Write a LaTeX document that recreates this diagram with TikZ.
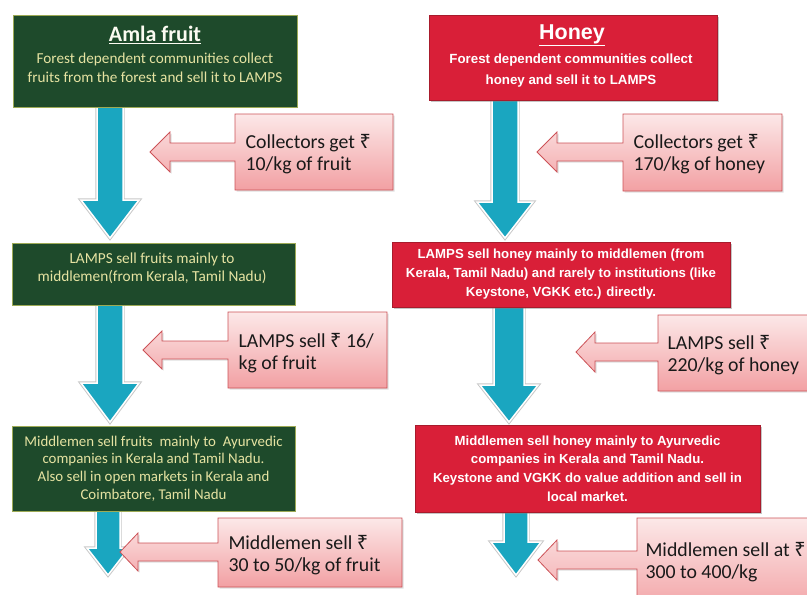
\documentclass[tikz,border=0pt]{standalone}
\usepackage{fontspec}
\setmainfont{Carlito}
\newfontfamily\arialfont{Liberation Sans}
\newfontfamily\rupeefont{Noto Sans}
\usetikzlibrary{shadows}
\newcommand\rs{{\rupeefont ₹}}

\definecolor{forest}{HTML}{1E4A2B}
\definecolor{forestedge}{HTML}{9DAA55}
\definecolor{foresttext}{HTML}{E6E3A2}
\definecolor{honeyred}{HTML}{D91F38}
\definecolor{honeyedge}{HTML}{A81B2C}
\definecolor{pinktop}{HTML}{FCE8E8}
\definecolor{pinkbot}{HTML}{F2A0A3}
\definecolor{pinkedge}{HTML}{CC5257}
\definecolor{arrowteal}{HTML}{1AA6C0}

% block arrow pointing down: centre x, top, head start, tip, shaft half width, head half width
\newcommand\blockdown[6]{%
  \filldraw[flowarrow] ({#1-#5},#2) -- ({#1+#5},#2) -- ({#1+#5},#3) -- ({#1+#6},#3)
    -- (#1,#4) -- ({#1-#6},#3) -- ({#1-#5},#3) -- cycle;}
% price box with an arrow pointing left: box corners, tip, head base x, shaft and head half widths
\newcommand\pricebox[9]{%
  \shade[pricestyle] (#1,#2) -- (#3,#2) -- (#3,#4) -- (#1,#4) -- (#1,{#6+#8}) -- (#7,{#6+#8})
    -- (#7,{#6+#9}) -- (#5,#6) -- (#7,{#6-#9}) -- (#7,{#6-#8}) -- (#1,{#6-#8}) -- cycle;}

\tikzset{
  flowarrow/.style={fill=arrowteal, draw=white, line width=1.5pt, line join=miter,
    preaction={draw=black!22, line width=3.4pt}},
  pricestyle/.style={top color=pinktop, bottom color=pinkbot, draw=pinkedge, line width=0.8pt,
    drop shadow={opacity=0.25, shadow xshift=1.5pt, shadow yshift=-1.5pt}},
  greenbox/.style={draw=forestedge, line width=0.9pt, fill=forest, text=foresttext,
    align=center, inner sep=0pt},
  redbox/.style={draw=honeyedge, line width=0.9pt, fill=honeyred, text=white, align=center,
    inner sep=0pt, font=\arialfont\bfseries,
    drop shadow={opacity=0.45, shadow xshift=1.5pt, shadow yshift=-1.5pt}},
  pricetext/.style={anchor=west, align=left, text=black!90, font=\fontsize{19.8}{22.5}\selectfont},
}

\begin{document}
\begin{tikzpicture}[x=1pt,y=-1pt]
\useasboundingbox (0,0) rectangle (807,595);
\clip (0,0) rectangle (807,595);

% flow arrows (drawn first so the boxes cover their tops)
\blockdown{110}{100}{200}{238}{13}{29}
\blockdown{505}{96}{202}{238}{13}{28}
\blockdown{110}{300}{383}{422}{13}{29}
\blockdown{509}{302}{385}{422}{15}{29}
\blockdown{108}{505}{548}{575}{12}{21}
\blockdown{516}{505}{542}{575}{12}{25}

% Amla fruit column
\node[greenbox, minimum width=284pt, minimum height=92pt] (g1) at (155,61) {};
\node[text=white!85!foresttext, font=\fontsize{22}{26}\selectfont\bfseries] (g1t) at (155,35) {\underline{Amla fruit}};
\node[text=foresttext, align=center, font=\fontsize{15.2}{19}\selectfont] (g1b) at (155,68)
  {Forest dependent communities collect\\fruits from the forest and sell it to LAMPS};

\node[greenbox, minimum width=283pt, minimum height=62pt] (g2) at (153.5,274) {};
\node[text=foresttext, align=center, font=\fontsize{15.3}{18}\selectfont] (g2b) at (152,268)
  {LAMPS sell fruits mainly to\\middlemen(from Kerala, Tamil Nadu)};

\node[greenbox, minimum width=283pt, minimum height=85pt, font=\fontsize{14.9}{17.8}\selectfont] (g3) at (153.5,468.5)
  {Middlemen sell fruits\ \ mainly to\ \ Ayurvedic\\companies in Kerala and Tamil Nadu.\\Also sell in open markets in Kerala and\\Coimbatore, Tamil Nadu};

% Honey column
\node[redbox, minimum width=288pt, minimum height=85pt] (r1) at (573,57.5) {};
\node[text=white, font=\arialfont\bfseries\fontsize{21.5}{24}\selectfont] (r1t) at (572,35) {\underline{Honey}};
\node[text=white, align=center, font=\arialfont\bfseries\fontsize{13.3}{21}\selectfont] (r1b) at (571,71)
  {Forest dependent communities collect\\honey and sell it to LAMPS};

\node[redbox, minimum width=338pt, minimum height=65pt, font=\arialfont\bfseries\fontsize{13.2}{19}\selectfont] (r2) at (561,274.5)
  {LAMPS sell honey mainly to middlemen (from\\Kerala, Tamil Nadu) and rarely to institutions (like\\Keystone, VGKK etc.) directly.};

\node[redbox, minimum width=345pt, minimum height=87pt, font=\arialfont\bfseries\fontsize{13.2}{18.7}\selectfont] (r3) at (587.5,468.5)
  {Middlemen sell honey mainly to Ayurvedic\\companies in Kerala and Tamil Nadu.\\Keystone and VGKK do value addition and sell in\\local market.};

% price boxes
\pricebox{235}{114}{393}{190}{150}{152}{170}{9}{20}
\node[pricetext] (p1) at (242,154) {Collectors get \rs\\10/kg of fruit};
\pricebox{623}{114}{782}{191}{537}{152}{557}{9}{20}
\node[pricetext] (p2) at (630,154) {Collectors get \rs\\170/kg of honey};
\pricebox{228}{312}{387}{388}{143}{350}{162}{9}{19}
\node[pricetext] (p3) at (235,353) {LAMPS sell \rs\ 16/\\kg of fruit};
\pricebox{218}{518}{402}{587}{120}{552}{138}{9}{19}
\node[pricetext] (p4) at (225,555) {Middlemen sell \rs\\30 to 50/kg of fruit};
\pricebox{658}{315}{830}{391}{576}{352}{595}{9}{20}
\node[pricetext] (p5) at (664,355) {LAMPS sell \rs\\220/kg of honey};
\pricebox{637}{518}{830}{615}{538}{560}{557}{9}{20}
\node[pricetext] (p6) at (642,562) {Middlemen sell at \rs\\300 to 400/kg};
\end{tikzpicture}
\end{document}
